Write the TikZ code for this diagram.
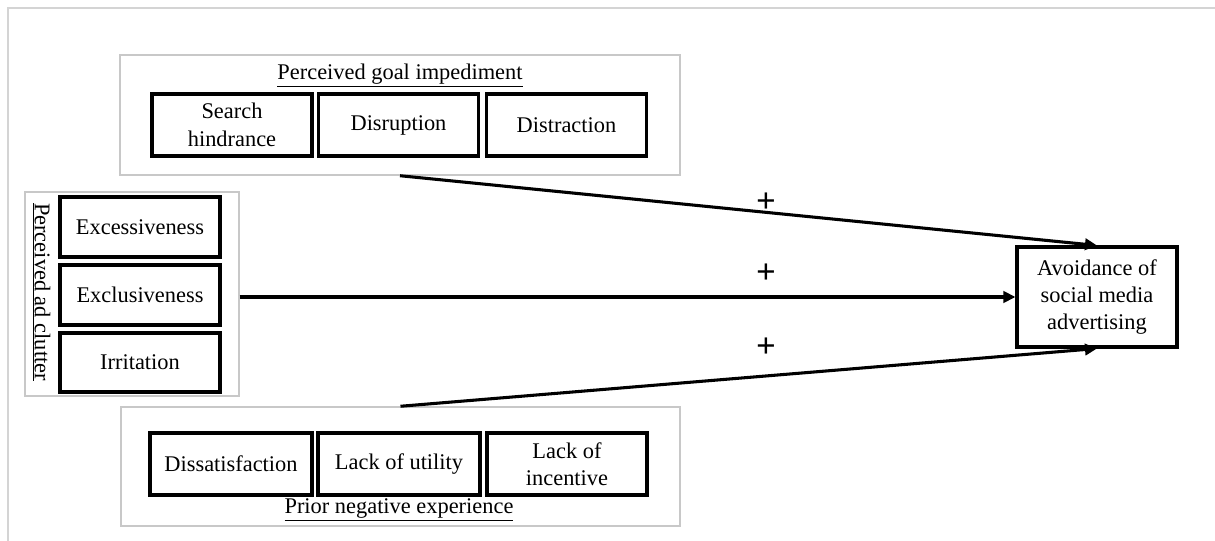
\documentclass[tikz,border=0pt]{standalone}
\usepackage{fontspec}
\setmainfont{Liberation Serif}
\usetikzlibrary{arrows.meta}
\definecolor{framegray}{RGB}{212,212,212}
\definecolor{groupgray}{RGB}{200,200,200}
\begin{document}
\begin{tikzpicture}[x=0.75pt,y=-0.75pt,
  every node/.style={font=\fontsize{16.8}{20.5}\selectfont, inner sep=0pt},
  inbox/.style={draw=black, line width=2.3pt, minimum width=120pt, minimum height=46.5pt, align=center},
  groupbox/.style={draw=groupgray, line width=1.1pt},
  outerframe/.style={draw=framegray, line width=1.5pt},
  titletext/.style={anchor=base},
  effect/.style={line width=2.3pt, -{Triangle[length=9pt,width=8.5pt]}},
  sign/.style={font=\fontsize{26}{28}\selectfont\bfseries}
]
\useasboundingbox (0,0) rectangle (1215,541);
% outer frame (top and left edges)
\coordinate (frameTR) at (1215,8);
\coordinate (frameTL) at (8,8);
\coordinate (frameBL) at (8,541);
\draw[outerframe] (frameTR) -- (frameTL) -- (frameBL);

% top group
\node[groupbox, minimum width=420pt, minimum height=90pt] (gtop) at (400,115) {};
\node[titletext] (gtoptitle) at (400,80) {\underline{Perceived goal impediment}};
\node[inbox] (search) at (232,125) {Search\\hindrance};
\node[inbox] (disrupt) at (398.5,125) {Disruption};
\node[inbox] (distract) at (566.5,125) {Distraction};

% left group
\node[groupbox, minimum width=160.5pt, minimum height=153pt] (gleft) at (132,294) {};
\node[anchor=base, rotate=-90] (glefttitle) at (35,292) {\underline{Perceived ad clutter}};
\node[inbox, minimum height=45pt] (excess) at (140,227) {Excessiveness};
\node[inbox, minimum height=45pt] (exclus) at (140,295) {Exclusiveness};
\node[inbox, minimum height=44.25pt] (irrit) at (140,362.5) {Irritation};

% bottom group
\node[groupbox, minimum width=419.25pt, minimum height=89.25pt] (gbot) at (400.5,466.5) {};
\node[titletext] (gbottitle) at (399,514) {\underline{Prior negative experience}};
\node[inbox, minimum width=121.5pt] (dissat) at (231,464) {Dissatisfaction};
\node[inbox, minimum width=121.5pt] (utility) at (399,464) {Lack of utility};
\node[inbox] (incent) at (567,464) {Lack of\\incentive};

% outcome
\node[inbox, minimum height=75pt] (avoid) at (1097,297) {Avoidance of\\social media\\advertising};

% effects
\draw[effect] (gtop.south) -- (avoid.north);
\draw[effect] (gleft.east |- avoid.west) -- (avoid.west);
\draw[effect] (gbot.north) -- (avoid.south);

\node[sign] (p1) at (766,203) {+};
\node[sign] (p2) at (766,274) {+};
\node[sign] (p3) at (766,348) {+};
\end{tikzpicture}
\end{document}
